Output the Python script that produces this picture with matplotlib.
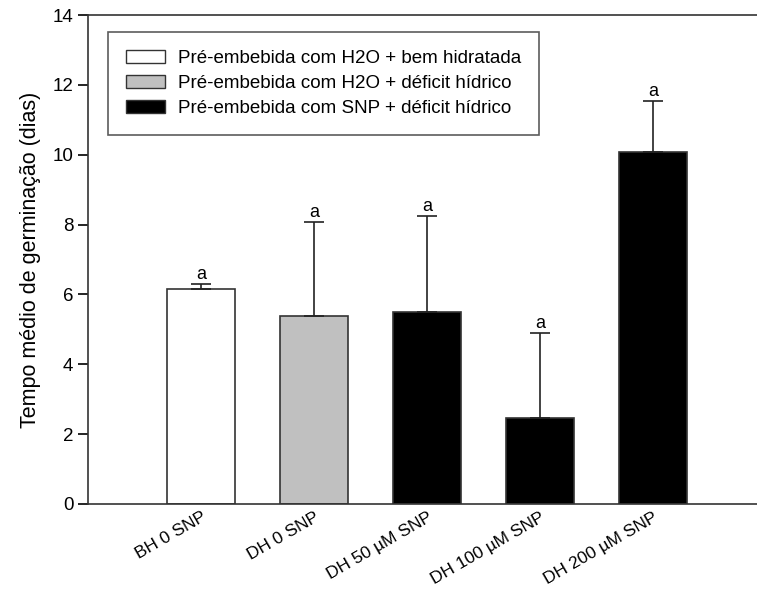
import matplotlib
matplotlib.use('Agg')
import matplotlib.pyplot as plt
from matplotlib.patches import Patch

plt.rcParams['font.family'] = ['Liberation Sans', 'DejaVu Sans']

# dados
tratamentos = ['BH 0 SNP', 'DH 0 SNP', 'DH 50 µM SNP', 'DH 100 µM SNP', 'DH 200 µM SNP']
medias = [6.15, 5.38, 5.50, 2.45, 10.08]
erros = [0.15, 2.70, 2.75, 2.45, 1.46]
letras = ['a', 'a', 'a', 'a', 'a']
cores = ['white', '#c0c0c0', 'black', 'black', 'black']
legenda = ['Pré-embebida com H2O + bem hidratada',
           'Pré-embebida com H2O + déficit hídrico',
           'Pré-embebida com SNP + déficit hídrico']
cores_legenda = ['white', '#c0c0c0', 'black']

fig = plt.figure(figsize=(7.57, 5.90), dpi=100)
ax = fig.add_axes([88 / 757, 86 / 590, 678 / 757, 489 / 590])

x = list(range(1, len(tratamentos) + 1))
ax.bar(x, medias, width=0.6, color=cores, edgecolor='#333333', linewidth=1.2, zorder=2)
ax.errorbar(x, medias, yerr=[[0] * len(erros), erros], fmt='none',
            ecolor='#222222', elinewidth=1.2, capsize=7.5, capthick=1.2, zorder=3)

for xi, m, e, l in zip(x, medias, erros, letras):
    ax.text(xi, m + e + 0.03, l, ha='center', va='bottom', fontsize=13)

ax.set_xlim(0, 6)
ax.set_ylim(0, 14)
ax.set_yticks(range(0, 15, 2))
ax.set_xticks(x)
ax.set_xticklabels(tratamentos, rotation=30, ha='right', rotation_mode='anchor', fontsize=12.5)
ax.tick_params(axis='y', labelsize=13.5, direction='out', length=7, width=1.2)
ax.tick_params(axis='x', length=0, pad=4)
ax.set_ylabel('Tempo médio de germinação (dias)', fontsize=15.5, labelpad=8)

ax.spines['right'].set_visible(False)
for s in ['left', 'top', 'bottom']:
    ax.spines[s].set_linewidth(1.2)
    ax.spines[s].set_color('#333333')

handles = [Patch(facecolor=c, edgecolor='#333333', linewidth=1.0) for c in cores_legenda]
leg = ax.legend(handles, legenda, loc='upper left', bbox_to_anchor=(0.0295, 0.965),
                borderaxespad=0, fontsize=13.5, frameon=True, fancybox=False,
                handlelength=2.1, handleheight=0.7, borderpad=0.95,
                labelspacing=0.42, handletextpad=0.7)
leg.get_frame().set_edgecolor('#333333')
leg.get_frame().set_linewidth(1.2)

fig.savefig('out.png', dpi=100)
